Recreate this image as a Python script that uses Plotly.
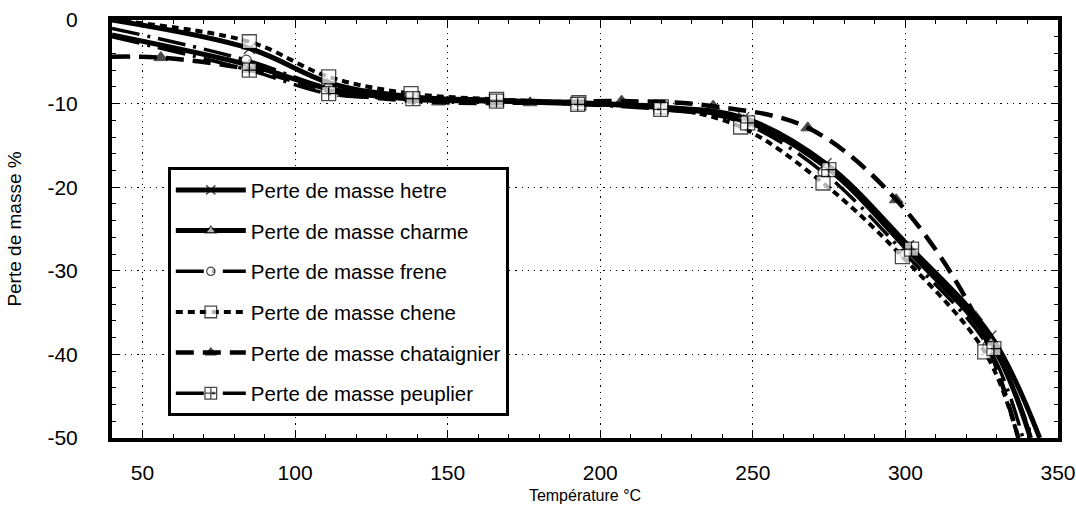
import plotly.graph_objects as go

# ---------------- data ----------------
hetre_x = [40, 85, 112, 139, 166, 193, 220, 247, 274, 301, 328, 344]
hetre_y = [0.0, -3.4, -7.6, -9.2, -9.6, -9.9, -10.4, -11.7, -17.2, -27.0, -37.8, -50]

charme_x = [40, 85, 112, 139, 166, 193, 220, 247, 274, 301, 328, 341]
charme_y = [-1.8, -5.4, -8.3, -9.5, -9.7, -10.0, -10.5, -12.0, -17.6, -27.6, -38.6, -50]

frene_x = [40, 84, 111, 138, 165, 192, 219, 246, 273, 300, 327, 338.5]
frene_y = [-1.0, -4.8, -8.1, -9.4, -9.7, -10.0, -10.6, -12.2, -18.2, -28.0, -39.0, -50]

chene_x = [40, 85, 111, 138, 166, 193, 220, 246, 273, 299, 326, 337]
chene_y = [0.0, -2.6, -6.8, -8.8, -9.5, -9.9, -10.4, -12.8, -19.5, -28.3, -39.7, -50]

chataignier_x = [40, 56, 85, 116, 147, 177, 207, 237, 268, 297, 323, 337]
chataignier_y = [-4.4, -4.5, -5.9, -8.8, -9.8, -9.9, -9.7, -10.3, -12.9, -21.5, -35.5, -50]

peuplier_x = [40, 85, 111, 138.6, 166, 192.6, 219.8, 248.3, 274.9, 302, 329, 341.5]
peuplier_y = [-2.0, -6.0, -8.8, -9.4, -9.7, -10.1, -10.7, -12.3, -17.9, -27.4, -39.3, -50]

series_names = [
    "Perte de masse hetre",
    "Perte de masse charme",
    "Perte de masse frene",
    "Perte de masse chene",
    "Perte de masse chataignier",
    "Perte de masse peuplier",
]

x_tick_values = [50, 100, 150, 200, 250, 300, 350]
x_tick_labels = ["50", "100", "150", "200", "250", "300", "350"]
y_tick_values = [0, -10, -20, -30, -40, -50]
y_tick_labels = ["0", "-10", "-20", "-30", "-40", "-50"]

x_title = "Température °C"
y_title = "Perte de masse %"

# ---------------- styles ----------------
FONT = "Liberation Sans, Arial, sans-serif"
styles = [
    dict(dash="solid", width=5, symbol="x-thin", msize=11, mcolor="black", lcolor="black", lwidth=1.5),
    dict(dash="solid", width=5, symbol="triangle-up", msize=11, mcolor="white", lcolor="black", lwidth=1.2),
    dict(dash="28px,8px,3px,8px", width=3.5, symbol="circle", msize=10, mcolor="white", lcolor="black", lwidth=1.2),
    dict(dash="7px,5px", width=4, symbol="square", msize=14, mcolor="white", lcolor="black", lwidth=1.3),
    dict(dash="18px,9px", width=4.5, symbol="triangle-up", msize=12, mcolor="black", lcolor="black", lwidth=1),
    dict(dash="28px,8px,3px,8px", width=3.5, symbol="square-cross", msize=14, mcolor="white", lcolor="black", lwidth=1.3),
]

all_x = [hetre_x, charme_x, frene_x, chene_x, chataignier_x, peuplier_x]
all_y = [hetre_y, charme_y, frene_y, chene_y, chataignier_y, peuplier_y]

fig = go.Figure()
for i, (name, xs, ys, st) in enumerate(zip(series_names, all_x, all_y, styles)):
    n = len(xs)
    sizes = [0 if (k == 0 or k == n - 1) else st["msize"] for k in range(n)]
    fig.add_trace(go.Scatter(
        x=xs, y=ys, name=name, mode="lines+markers",
        legendgroup=f"g{i}",
        line=dict(color="black", width=st["width"], dash=st["dash"], shape="spline", smoothing=1.0),
        marker=dict(symbol=st["symbol"], size=sizes, color=st["mcolor"],
                    line=dict(color=st["lcolor"], width=st["lwidth"])),
        cliponaxis=True,
    ))

axis_common = dict(
    showline=True, linecolor="black", linewidth=4, mirror="allticks",
    ticks="inside", ticklen=7, tickwidth=1.2, tickcolor="black",
    showgrid=True, gridcolor="black", gridwidth=1.3, griddash="1.3px,5px",
    zeroline=False,
    tickfont=dict(family=FONT, size=21, color="black"),
)

fig.update_xaxes(
    range=[40, 350], tickvals=x_tick_values, ticktext=x_tick_labels,
    minor=dict(dtick=10, tick0=0, ticks="inside", ticklen=4, tickcolor="black", showgrid=False),
    ticklabelstandoff=13,
    title=dict(text=x_title, font=dict(family=FONT, size=16, color="black"), standoff=8),
    **axis_common,
)
fig.update_yaxes(
    range=[-50, 0], tickvals=y_tick_values, ticktext=y_tick_labels,
    minor=dict(dtick=2, tick0=0, ticks="inside", ticklen=4, tickcolor="black", showgrid=False),
    ticklabelstandoff=26,
    title=dict(text=y_title, font=dict(family=FONT, size=19, color="black"), standoff=22),
    **axis_common,
)

fig.update_layout(
    width=1076, height=511,
    margin=dict(l=112, r=18, t=20, b=73, autoexpand=False),
    paper_bgcolor="white", plot_bgcolor="white",
    font=dict(family=FONT, color="black"),
    showlegend=True,
    legend=dict(
        x=0.059, y=0.648, xanchor="left", yanchor="top",
        bgcolor="white", bordercolor="black", borderwidth=3,
        font=dict(family=FONT, size=20.5, color="black"),
        itemwidth=70, tracegroupgap=11, traceorder="grouped",
    ),
)

fig.write_html("out.html")
